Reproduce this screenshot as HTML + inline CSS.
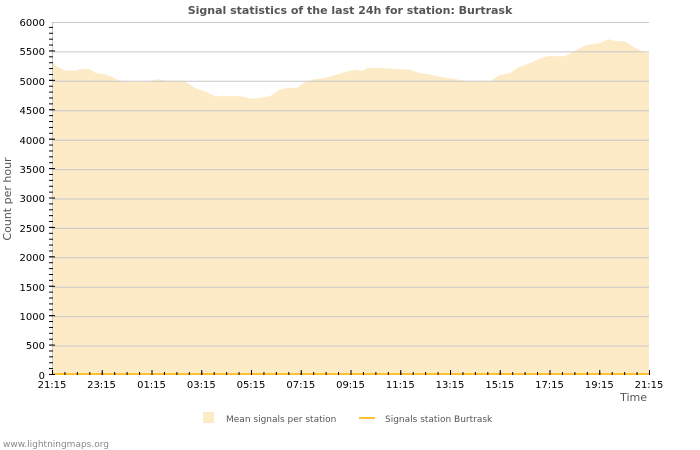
<!DOCTYPE html>
<html><head><meta charset="utf-8"><style>body{margin:0;background:#fff}svg{display:block;font-family:"DejaVu Sans","Liberation Sans",sans-serif}</style></head><body>
<svg width="700" height="450" viewBox="0 0 700 450">
<defs>
<pattern id="ym" patternUnits="userSpaceOnUse" x="0" y="374" width="10" height="5.883"><rect x="0" y="0" width="10" height="1" fill="#000"/></pattern>
<pattern id="yM" patternUnits="userSpaceOnUse" x="0" y="374" width="10" height="29.415"><rect x="0" y="0" width="10" height="1" fill="#000"/></pattern>
<pattern id="xm" patternUnits="userSpaceOnUse" x="52" y="0" width="12.4375" height="10"><rect x="0" y="0" width="1" height="10" fill="#000"/></pattern>
<pattern id="xM" patternUnits="userSpaceOnUse" x="52" y="0" width="49.75" height="10"><rect x="0" y="0" width="1" height="10" fill="#000"/></pattern>
</defs>
<text x="350" y="14" text-anchor="middle" font-size="11" font-weight="bold" fill="#555">Signal statistics of the last 24h for station: Burtrask</text>
<g transform="translate(0 375) scale(1 -0.058833)">
<polygon fill="#fdebc8" points="52,0 52,5320 58,5230 65,5180 75,5170 80,5200 90,5200 96,5130 105,5110 112,5070 118,5010 130,4980 148,4980 157,5030 168,5000 185,4990 195,4880 205,4820 215,4740 240,4740 250,4700 260,4710 270,4740 280,4850 288,4880 297,4880 305,4980 315,5030 325,5050 335,5100 345,5150 355,5190 362,5170 368,5220 380,5220 395,5200 410,5190 420,5130 430,5110 440,5070 455,5030 470,4990 490,4990 500,5100 510,5130 518,5230 530,5300 540,5380 548,5420 565,5420 575,5510 585,5600 600,5640 608,5710 615,5680 625,5670 635,5560 645,5480 649,5470 649,0"/>
</g>
<g stroke="#c8c8c8" stroke-width="1">
<line x1="52" x2="649" y1="22.5" y2="22.5"/><line x1="52" x2="649" y1="51.9" y2="51.9"/><line x1="52" x2="649" y1="81.3" y2="81.3"/><line x1="52" x2="649" y1="110.8" y2="110.8"/><line x1="52" x2="649" y1="140.2" y2="140.2"/><line x1="52" x2="649" y1="169.6" y2="169.6"/><line x1="52" x2="649" y1="199" y2="199"/><line x1="52" x2="649" y1="228.4" y2="228.4"/><line x1="52" x2="649" y1="257.8" y2="257.8"/><line x1="52" x2="649" y1="287.2" y2="287.2"/><line x1="52" x2="649" y1="316.6" y2="316.6"/><line x1="52" x2="649" y1="346.1" y2="346.1"/>
<line x1="52.5" x2="52.5" y1="22" y2="375"/>
</g>
<line x1="52" x2="649" y1="374" y2="374" stroke="#fcc330" stroke-width="2"/>
<rect x="49" y="22" width="4" height="354" fill="url(#ym)"/>
<rect x="49" y="22" width="6" height="354" fill="url(#yM)"/>
<rect x="52" y="372" width="598" height="3" fill="url(#xm)"/>
<rect x="52" y="370" width="598" height="5" fill="url(#xM)"/>
<g font-size="10" fill="#000" text-anchor="end">
<text x="45" y="26">6000</text><text x="45" y="55">5500</text><text x="45" y="85">5000</text><text x="45" y="114">4500</text><text x="45" y="144">4000</text><text x="45" y="173">3500</text><text x="45" y="202">3000</text><text x="45" y="232">2500</text><text x="45" y="261">2000</text><text x="45" y="291">1500</text><text x="45" y="320">1000</text><text x="45" y="349">500</text><text x="45" y="379">0</text>
</g>
<g font-size="10" fill="#000" text-anchor="middle">
<text x="52" y="388">21:15</text><text x="101.5" y="388">23:15</text><text x="151.5" y="388">01:15</text><text x="201.3" y="388">03:15</text><text x="251" y="388">05:15</text><text x="300.8" y="388">07:15</text><text x="350.5" y="388">09:15</text><text x="400.3" y="388">11:15</text><text x="450" y="388">13:15</text><text x="499.8" y="388">15:15</text><text x="549.5" y="388">17:15</text><text x="599.3" y="388">19:15</text><text x="649" y="388">21:15</text>
</g>
<text x="647" y="401" font-size="11" fill="#555" text-anchor="end">Time</text>
<text transform="translate(11 199) rotate(-90)" font-size="11" fill="#555" text-anchor="middle">Count per hour</text>
<rect x="203" y="412" width="11" height="11" fill="#fdebc8"/>
<text x="226" y="422" font-size="9" fill="#555">Mean signals per station</text>
<line x1="359" x2="375" y1="418" y2="418" stroke="#fcc330" stroke-width="2"/>
<text x="385" y="422" font-size="9" fill="#555">Signals station Burtrask</text>
<text x="3" y="447" font-size="9" fill="#888">www.lightningmaps.org</text>
</svg>
</body></html>
